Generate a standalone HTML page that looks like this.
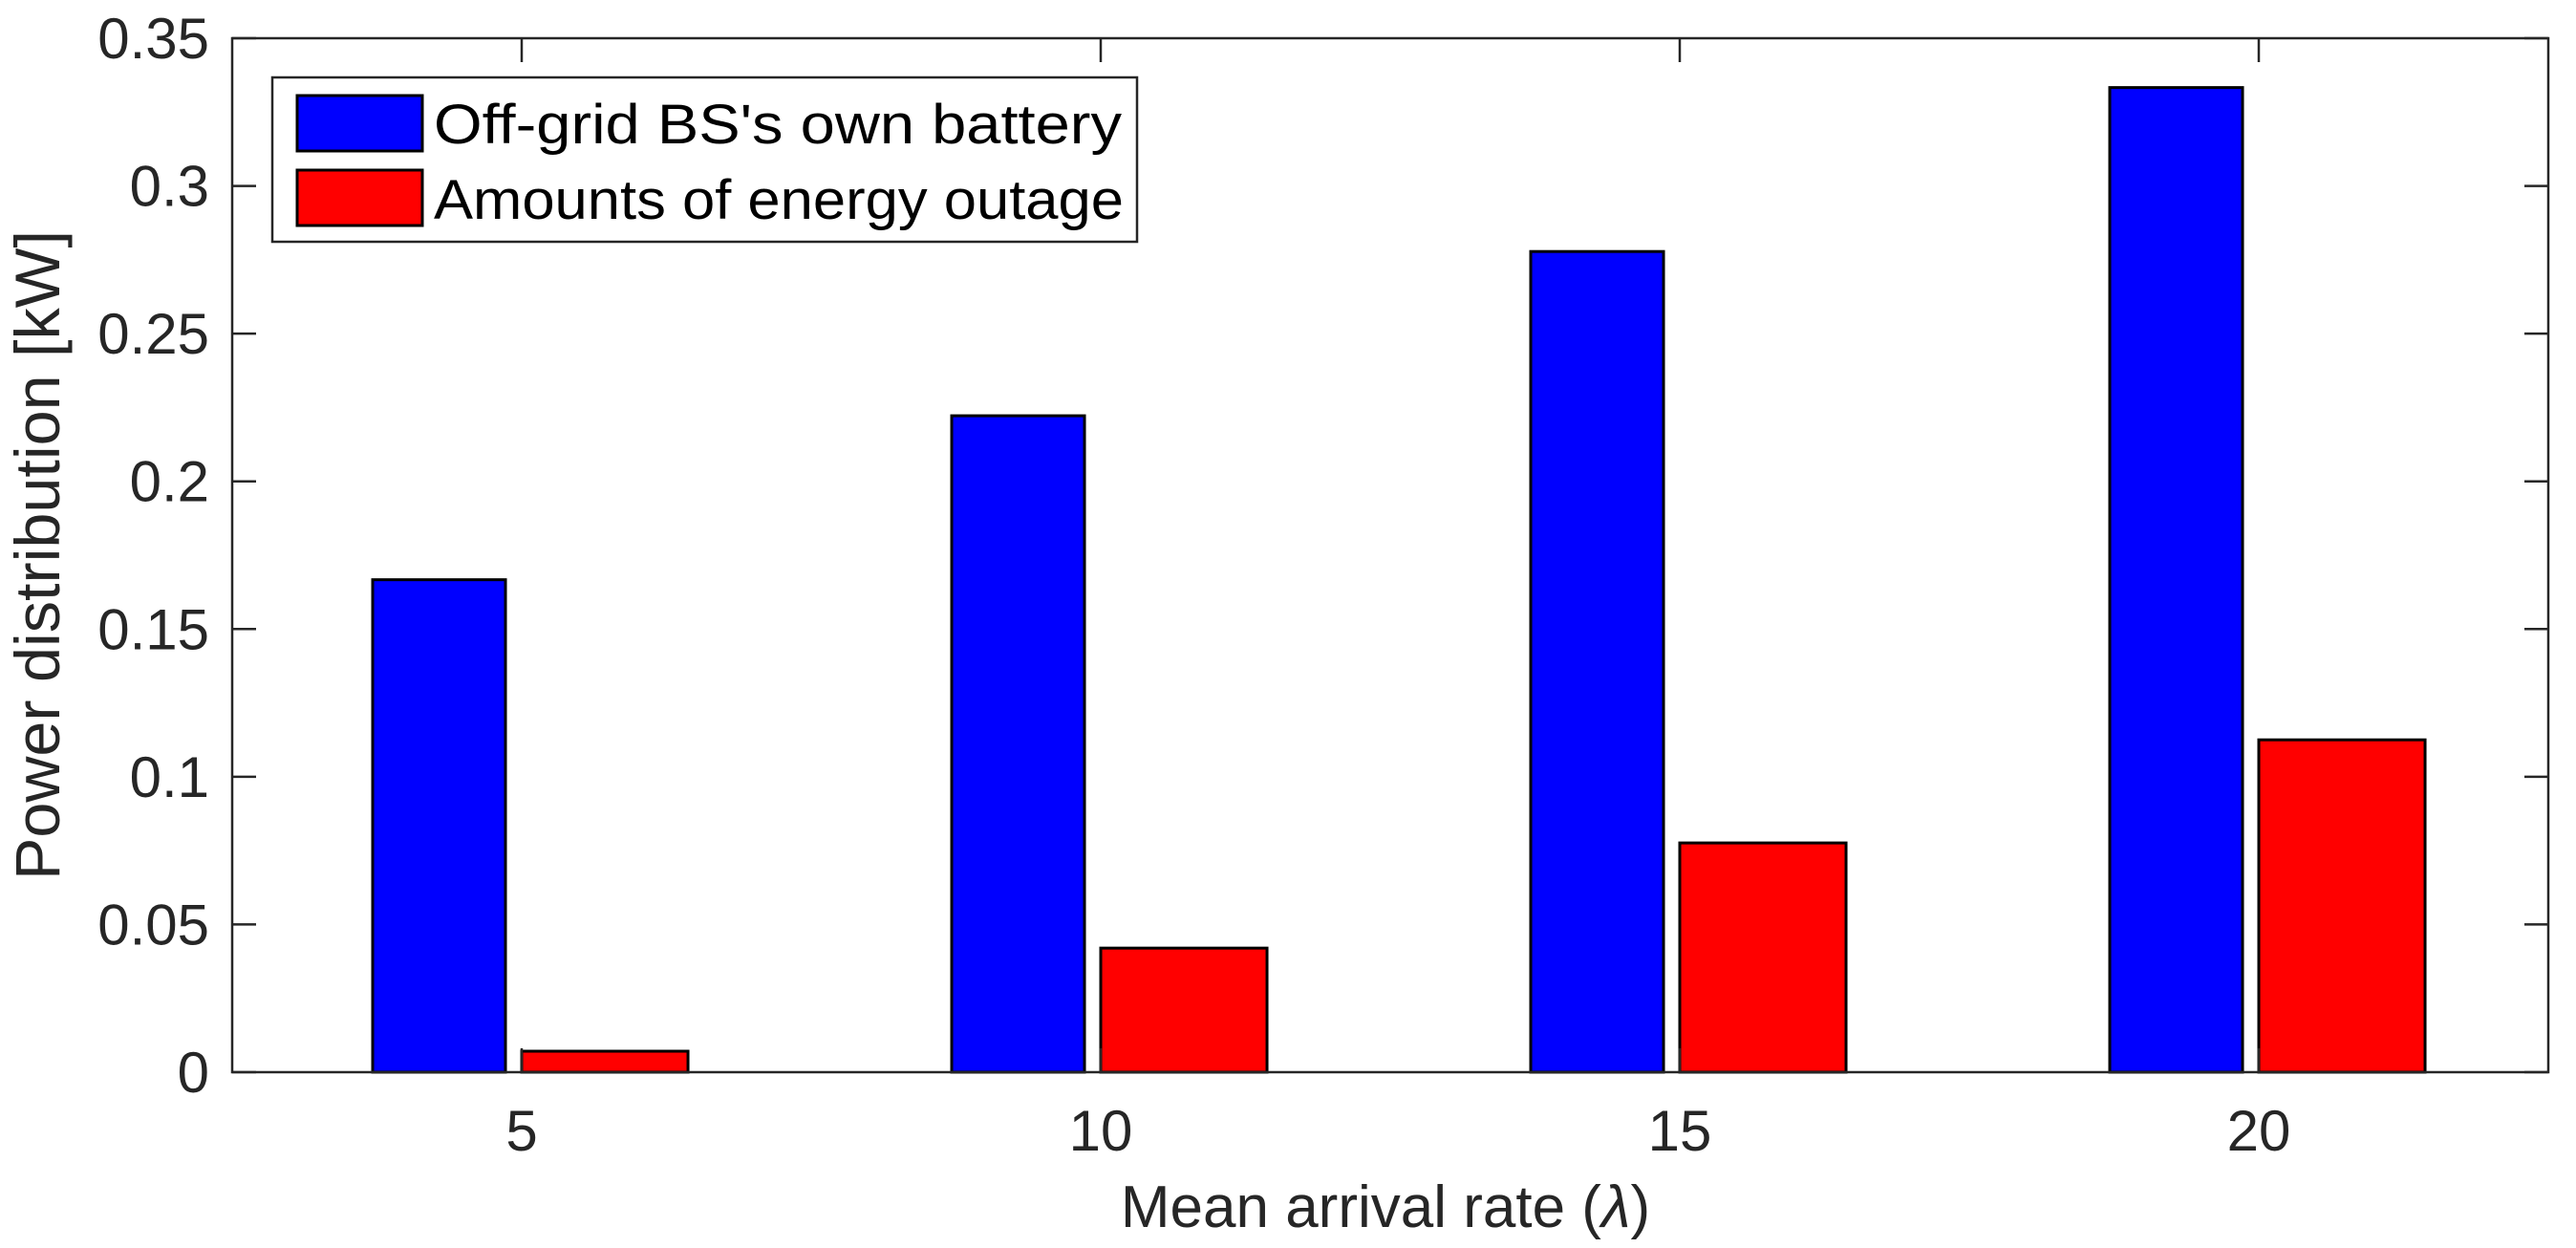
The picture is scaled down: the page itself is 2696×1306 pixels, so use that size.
<!DOCTYPE html>
<html><head><meta charset="utf-8"><style>
html,body{margin:0;padding:0;background:#fff;}
svg{display:block;font-family:"Liberation Sans",Arial,sans-serif;}
</style></head><body>
<svg id="chart" width="2696" height="1306" viewBox="0 0 2696 1306" xmlns="http://www.w3.org/2000/svg">
<rect x="0" y="0" width="2696" height="1306" fill="#fff"/>
<g id="bars"></g>
<g id="axes"></g>
<g id="legend">
  <rect x="285" y="81" width="905" height="172" fill="#fff" stroke="#262626" stroke-width="2.5"/>
  <rect x="311" y="100" width="131" height="58" fill="#0000ff" stroke="#000" stroke-width="3"/>
  <text x="454" y="150" font-size="58" fill="#000" textLength="720" lengthAdjust="spacingAndGlyphs">Off-grid BS's own battery</text>
  <rect x="311" y="178" width="131" height="58" fill="#ff0000" stroke="#000" stroke-width="3"/>
  <text x="454" y="229" font-size="58" fill="#000" textLength="722" lengthAdjust="spacingAndGlyphs">Amounts of energy outage</text>
</g>
<text x="1450" y="1284" font-size="62" fill="#262626" text-anchor="middle">Mean arrival rate (<tspan font-style="italic">λ</tspan>)</text>
<text transform="translate(62,581) rotate(-90)" font-size="66" fill="#262626" text-anchor="middle" textLength="680" lengthAdjust="spacingAndGlyphs">Power distribution [kW]</text>
</svg>
<script>
const categories = [5, 10, 15, 20];
const batteryValues = [0.1667, 0.2222, 0.2778, 0.3333];
const outageValues = [0.0071, 0.042, 0.0776, 0.1125];
const yTickValues = [0, 0.05, 0.1, 0.15, 0.2, 0.25, 0.3, 0.35];
const yTickLabels = ["0", "0.05", "0.1", "0.15", "0.2", "0.25", "0.3", "0.35"];
const xTickLabels = ["5", "10", "15", "20"];

const NS = "http://www.w3.org/2000/svg";
const L = 243, R = 2667, T = 40, B = 1122;
const xMin = 5 - (546 - L) / 121.2, xMax = 5 + (R - 546) / 121.2;
function xs(v){ return L + (v - xMin) / (xMax - xMin) * (R - L); }
function ys(v){ return B - (v - 0) / (0.35 - 0) * (B - T); }
const unit = (R - L) / (xMax - xMin);
function mk(tag, attrs, parent){ const e = document.createElementNS(NS, tag); for (const k in attrs) e.setAttribute(k, attrs[k]); parent.appendChild(e); return e; }

const bars = document.getElementById('bars');
categories.forEach((c, i) => {
  const xc = xs(c);
  const b = mk('rect', {x: xc - 1.287*unit, y: ys(batteryValues[i]), width: 1.147*unit, height: ys(0) - ys(batteryValues[i]), fill: '#0000ff', stroke: '#000', 'stroke-width': 3}, bars);
  
  
  const r = mk('rect', {x: xc, y: ys(outageValues[i]), width: 1.436*unit, height: ys(0) - ys(outageValues[i]), fill: '#ff0000', stroke: '#000', 'stroke-width': 3}, bars);
  
  
});

const axes = document.getElementById('axes');
const frame = mk('rect', {x: L, y: T, width: R - L, height: B - T, fill: 'none', stroke: '#262626', 'stroke-width': 2.5}, axes);


yTickValues.forEach((v, i) => {
  const y = ys(v);
  mk('line', {x1: L, x2: L + 25, y1: y, y2: y, stroke: '#262626', 'stroke-width': 2.5}, axes);
  mk('line', {x1: R, x2: R - 25, y1: y, y2: y, stroke: '#262626', 'stroke-width': 2.5}, axes);
  const t = mk('text', {x: 219, y: y + 21, 'font-size': 60, fill: '#262626', 'text-anchor': 'end'}, axes);
  t.textContent = yTickLabels[i];
  
  
});
categories.forEach((c, i) => {
  const x = xs(c);
  mk('line', {x1: x, x2: x, y1: B, y2: B - 25, stroke: '#262626', 'stroke-width': 2.5}, axes);
  mk('line', {x1: x, x2: x, y1: T, y2: T + 25, stroke: '#262626', 'stroke-width': 2.5}, axes);
  const t = mk('text', {x: x, y: 1204, 'font-size': 60, fill: '#262626', 'text-anchor': 'middle'}, axes);
  t.textContent = xTickLabels[i];
  
  
});
</script>
</body></html>
